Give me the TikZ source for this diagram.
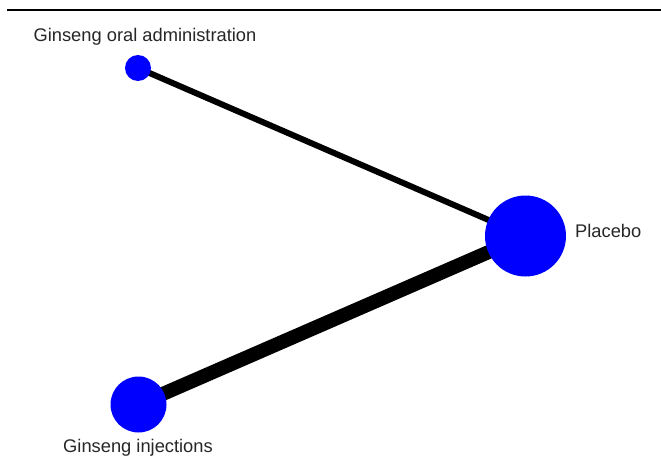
\documentclass[tikz,border=0pt]{standalone}
\usepackage{fontspec}
\setmainfont{Liberation Sans}
\usetikzlibrary{positioning, backgrounds}
\tikzset{
    treat/.style={
        circle,
        fill=blue,
        inner sep=0pt
    },
    treatlabel/.style={
        font=\fontsize{18.3}{20}\selectfont,
        text=black!85,
        inner sep=0pt
    },
    trial/.style={draw=black, line cap=butt}
}

\begin{document}
\begin{tikzpicture}[x=1pt, y=-1pt]
        \useasboundingbox (0,0) rectangle (661,460);
        \draw[line width=2.5pt] (7,10) -- (661,10);

        \node[treat, minimum size=26pt] (oral) at (138,68) {};
        \node[treat, minimum size=81pt] (placebo) at (525.5,236) {};
        \node[treat, minimum size=56pt] (inject) at (138.5,404.5) {};

        \node[treatlabel] (oralname) at (145,37) {Ginseng oral administration};
        \node[treatlabel, anchor=west] (placeboname) at (575,231) {Placebo};
        \node[treatlabel] (injectname) at (138,448) {Ginseng injections};

        \begin{scope}[on background layer]
            \draw[trial, line width=6pt] (oral.center) -- (placebo.center);
            \draw[trial, line width=14pt] (inject.center) -- (placebo.center);
        \end{scope}
    \end{tikzpicture}
\end{document}
